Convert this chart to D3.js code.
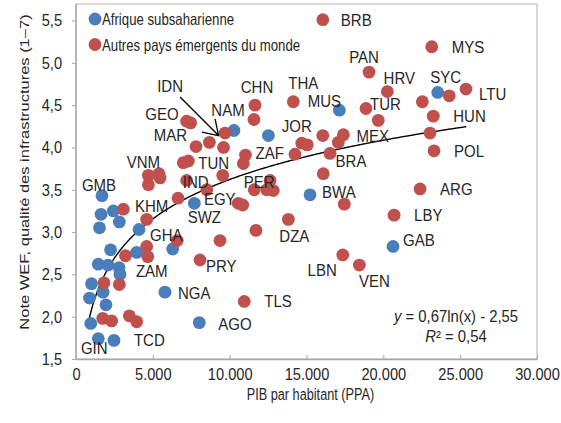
<!DOCTYPE html>
<html><head><meta charset="utf-8">
<script src="https://cdn.jsdelivr.net/npm/d3@7"></script>
<style>
html,body{margin:0;padding:0;background:#fff;}
svg{display:block;font-family:"Liberation Sans",Arial,sans-serif;}
</style></head>
<body><svg id="c" width="561" height="423"></svg>
<script>
// ---- Data ----
const groups = ["Afrique subsaharienne", "Autres pays émergents du monde"];
const groupColors = ["#4a7ebb", "#c0504d"];

// Afrique subsaharienne
const ssaNames = ["NAM","","MUS","SYC","GMB","SWZ","","","","","","","","","","","","ZAM","","","","","NGA","AGO","","GIN","TCD","BWA","GAB"];
const ssaGdp   = [10280,12520,17140,23540,1690,7700,1630,2430,2820,1530,4100,6290,2250,3950,1450,2080,2800,2860,1010,1760,880,1950,5790,8020,960,1450,2470,15230,20630];
const ssaScore = [4.20,4.14,4.44,4.65,3.43,3.34,3.21,3.25,3.12,3.05,3.03,2.80,2.79,2.76,2.62,2.61,2.58,2.50,2.39,2.29,2.22,2.14,2.29,1.93,1.92,1.74,1.72,3.44,2.83];

// Autres pays émergents
const othNames = ["BRB","MYS","PAN","HRV","LTU","","","CHN","THA","TUR","","HUN","","POL","ARG","LBY","","GEO","","IDN","MAR","","","ZAF","","","TUN","","VNM","","","","IND","EGY","","","","KHM","","GHA","","","","","PRY","","","","","","","TLS","","DZA","PER","","","","","LBN","VEN","","JOR","","","BRA","","","MEX"];
const othGdp   = [16060,23150,19070,20260,25380,24290,22540,11650,14140,18870,19670,23250,23040,23300,22390,20700,11580,7200,7460,9700,7810,8680,9600,11030,10890,6980,7310,9550,4710,5400,5470,4710,7200,8510,6640,10560,10850,4600,3080,6590,9370,4600,4670,3220,8070,1820,2820,1740,2320,3470,3950,10950,11710,13820,12630,11600,12410,12840,17460,17360,18440,16090,14690,15050,14250,16530,17070,16060,17400];
const othScore = [5.51,5.19,4.89,4.66,4.69,4.61,4.54,4.50,4.54,4.46,4.32,4.37,4.17,3.96,3.51,3.20,4.33,4.31,4.29,4.17,4.01,4.06,4.00,3.91,3.81,3.82,3.84,3.67,3.67,3.69,3.64,3.56,3.61,3.50,3.40,3.34,3.32,3.15,3.27,2.90,2.90,2.83,2.71,2.72,2.67,2.40,2.38,1.98,1.95,2.01,1.94,2.18,3.02,3.15,3.61,3.50,3.50,3.49,3.33,2.73,2.61,3.69,4.05,4.03,3.92,3.93,4.06,4.14,4.15];

const xTicks = [0,5000,10000,15000,20000,25000,30000];
const yTicks = [1.5,2.0,2.5,3.0,3.5,4.0,4.5,5.0,5.5];
const xTitle = "PIB par habitant (PPA)";
const yTitle = "Note WEF, qualité des infrastructures (1–7)";
// trend line y = a ln(x) + b, as printed on the chart
const trendCoef = [0.67, -2.55];
const trendRange = [750, 25400];
const eqLine1 = " = 0,67ln(x) - 2,55";
const eqLine2 = "² = 0,54";

// ---- Layout (label placement: anchor, dx, dy from the dot) ----
const labelPos = {
  BRB:["start",18,0], MYS:["start",20,0], PAN:["middle",-5,-15], HRV:["middle",12,-13],
  SYC:["middle",8,-15], LTU:["start",13,5], TUR:["start",4,-4], HUN:["start",20,0],
  POL:["start",20,0], ARG:["start",20,0], LBY:["start",20,0], GAB:["start",10,-6],
  VEN:["middle",15,16], LBN:["end",-6,15], TLS:["start",20,0], AGO:["start",19,1],
  NGA:["start",13,1], TCD:["start",20,0], GIN:["middle",-4,9], ZAM:["start",16,-3],
  PRY:["start",6,6], GHA:["middle",-11,-5], KHM:["middle",5,-13], SWZ:["middle",10,14],
  EGY:["middle",13,9], IND:["middle",9,2], TUN:["start",10,2], VNM:["middle",-5,-13],
  GMB:["middle",-3,-11], MAR:["end",-9,-11], GEO:["end",-8,-7], NAM:["middle",-6,-20],
  IDN:["middle",-55,-47], CHN:["middle",2,-18], THA:["middle",10,-19], MUS:["middle",-15,-9],
  JOR:["middle",-5,-17], ZAF:["start",10,-2], MEX:["start",13,1], BRA:["middle",21,8],
  PER:["middle",-11,2], BWA:["start",12,-3], DZA:["middle",6,17]
};
const ink = "#262626";

const svg = d3.select("#c");
const L = 76, R = 537, T = 4, B = 359;
const x = d3.scaleLinear().domain([0,30000]).range([L,R]);
const y = d3.scaleLinear().domain([1.5,5.5]).range([B,20.5]);
const loc = d3.formatLocale({decimal:",", thousands:".", grouping:[3], currency:["",""]});

// horizontally condensed text helper
function stext(parent, tx, ty, sx, fs, anchor, str){
  return parent.append("text")
    .attr("transform",`translate(${tx},${ty}) scale(${sx},1)`)
    .attr("text-anchor",anchor).attr("font-size",fs).attr("fill",ink).text(str);
}

// frame
svg.append("rect").attr("x",L).attr("y",T).attr("width",R-L).attr("height",B-T)
  .attr("fill","none").attr("stroke","#bfbfbf").attr("stroke-width",1.2);

// axes
const TS = 0.86;
const gx = svg.append("g").attr("transform",`translate(0,${B})`)
  .call(d3.axisBottom(x).tickValues(xTicks).tickFormat(loc.format(",")).tickSizeInner(-4).tickSizeOuter(0).tickPadding(8));
gx.select(".domain").attr("stroke","#a6a6a6").attr("stroke-width",1.3);
gx.selectAll(".tick line").attr("stroke","#a6a6a6");
gx.selectAll(".tick text").attr("font-family","Liberation Sans, Arial, sans-serif")
  .attr("font-size",17).attr("fill",ink).attr("dy",null).attr("y",21)
  .attr("transform",`scale(${TS},1)`);

const gy = svg.append("g").attr("transform",`translate(${L},0)`)
  .call(d3.axisLeft(y).tickValues(yTicks).tickFormat(loc.format(",.1f")).tickSizeInner(4).tickSizeOuter(0).tickPadding(10));
gy.select(".domain").attr("stroke","#a6a6a6").attr("stroke-width",1.3).attr("d",`M0,${T}V${B}`);
gy.selectAll(".tick line").attr("stroke","#a6a6a6");
gy.selectAll(".tick text").attr("font-family","Liberation Sans, Arial, sans-serif")
  .attr("font-size",17).attr("fill",ink).attr("x",-14/TS).attr("transform",`scale(${TS},1)`);

// titles
stext(svg, (L+R)/2+4, 400, 0.77, 16.5, "middle", xTitle);
svg.append("text").attr("transform",`translate(29,172) rotate(-90) scale(1,0.82)`)
  .attr("text-anchor","middle").attr("font-size",16.5).attr("fill",ink).text(yTitle);

// trend line
const trendX = d3.range(trendRange[0], trendRange[1]+1, 50);
svg.append("path").datum(trendX)
  .attr("fill","none").attr("stroke","#000").attr("stroke-width",1.4)
  .attr("d", d3.line().x(d=>x(d)).y(d=>y(trendCoef[0]*Math.log(d)+trendCoef[1])));

// points
const ssa = ssaGdp.map((g,i)=>({name:ssaNames[i],gdp:g,score:ssaScore[i],grp:0}));
const oth = othGdp.map((g,i)=>({name:othNames[i],gdp:g,score:othScore[i],grp:1}));
const all = ssa.concat(oth);
svg.append("g").selectAll("circle").data(all).join("circle")
  .attr("cx",d=>x(d.gdp)).attr("cy",d=>y(d.score)).attr("r",6.4)
  .attr("fill",d=>groupColors[d.grp]);

// labels
const labeled = all.filter(d=>d.name && labelPos[d.name]);
svg.append("g").selectAll("text").data(labeled).join("text")
  .attr("text-anchor",d=>labelPos[d.name][0])
  .attr("transform",d=>`translate(${x(d.gdp)+labelPos[d.name][1]},${y(d.score)+labelPos[d.name][2]+5.9}) scale(0.91,1)`)
  .attr("font-size",16.5).attr("fill",ink)
  .text(d=>d.name);

// IDN arrow
const idn = all.find(d=>d.name==="IDN");
const tipX = x(idn.gdp)-6.5, tipY = y(idn.score)+2.5;
const sX = x(idn.gdp)-45, sY = y(idn.score)-36;
const ang = Math.atan2(tipY-sY, tipX-sX);
const hl = 17, ha = 0.58;
svg.append("path").attr("fill","none").attr("stroke","#000").attr("stroke-width",1.3)
  .attr("d",`M${sX},${sY}L${tipX},${tipY}M${tipX-hl*Math.cos(ang-ha)},${tipY-hl*Math.sin(ang-ha)}L${tipX},${tipY}L${tipX-hl*Math.cos(ang+ha)},${tipY-hl*Math.sin(ang+ha)}`);

// legend
const lg = svg.append("g");
groups.forEach((g,i)=>{
  lg.append("circle").attr("cx",95).attr("cy",19+i*25.5).attr("r",6.4).attr("fill",groupColors[i]);
  stext(lg, 102, 19+i*25.5+6, 0.8, 16.5, "start", g);
});

// equation
const eq = stext(svg, 456, 322, 0.9, 16.5, "middle", null);
eq.append("tspan").attr("font-style","italic").text("y");
eq.append("tspan").text(eqLine1);
const eq2 = stext(svg, 456, 342, 0.9, 16.5, "middle", null);
eq2.append("tspan").attr("font-style","italic").text("R");
eq2.append("tspan").text(eqLine2);
</script></body></html>
